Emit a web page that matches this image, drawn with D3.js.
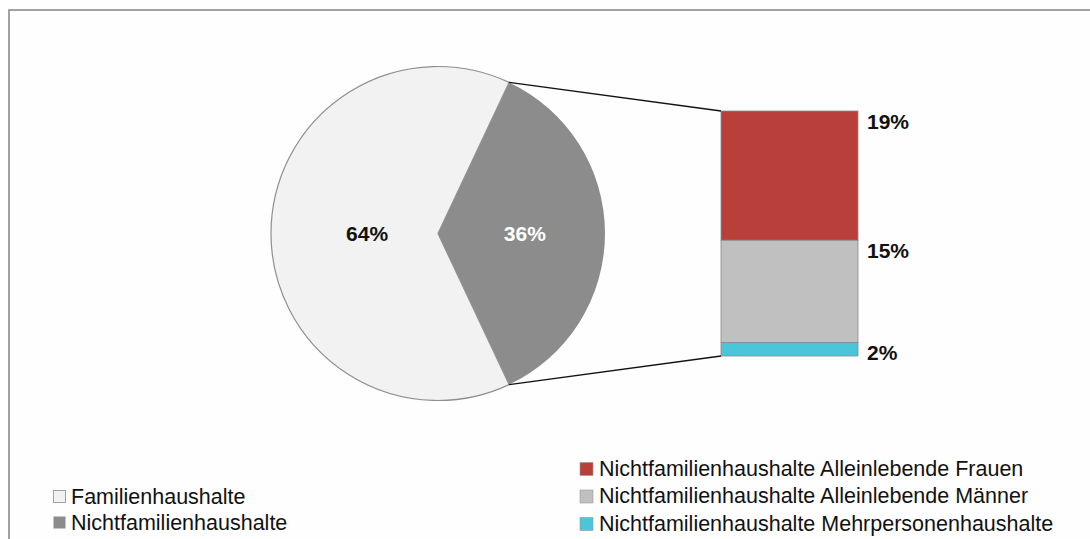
<!DOCTYPE html>
<html>
<head>
<meta charset="utf-8">
<script src="https://cdn.jsdelivr.net/npm/d3@7"></script>
<style>
  html, body { margin: 0; padding: 0; background: #ffffff; }
  svg { display: block; font-family: "Liberation Sans", Arial, sans-serif; }
</style>
</head>
<body>
<svg id="chart" width="1090" height="539"></svg>
<script>
// Household types: main pie and breakdown of non-family households
const pieCategories = ["Familienhaushalte", "Nichtfamilienhaushalte"];
const pieValues = [64, 36];
const pieColors = ["#f2f2f2", "#8c8c8c"];

const barCategories = [
  "Nichtfamilienhaushalte Alleinlebende Frauen",
  "Nichtfamilienhaushalte Alleinlebende Männer",
  "Nichtfamilienhaushalte Mehrpersonenhaushalte"
];
const barValues = [19, 15, 2];
const barColors = ["#b9403a", "#c0c0c0", "#4bc5d9"];

const svg = d3.select("#chart");

// outer frame
svg.append("rect")
  .attr("x", 9).attr("y", 10)
  .attr("width", 1200).attr("height", 700)
  .attr("fill", "#fefefe")
  .attr("stroke", "#8a8a8a").attr("stroke-width", 1.6);

// ---- pie ----
const cx = 438, cy = 233.5, r = 167;
const nfShare = pieValues[1] / d3.sum(pieValues);
const nfHalf = nfShare * Math.PI;
// rotate so the non-family slice is centred on the right-hand side
const startAngle = Math.PI / 2 - nfHalf;

const pie = d3.pie().sort(null)
  .startAngle(startAngle)
  .endAngle(startAngle + 2 * Math.PI);
const arcs = pie([pieValues[1], pieValues[0]]);
const arc = d3.arc().innerRadius(0).outerRadius(r);

const gPie = svg.append("g").attr("transform", `translate(${cx},${cy})`);
gPie.selectAll("path")
  .data(arcs)
  .join("path")
  .attr("d", arc)
  .attr("fill", (d, i) => i === 0 ? pieColors[1] : pieColors[0])
  .attr("stroke", (d, i) => i === 0 ? "none" : "#8f8f8f")
  .attr("stroke-width", 1.2);

// pie labels
const labelArc = d3.arc().innerRadius(r * 0.52).outerRadius(r * 0.52);
gPie.selectAll("text.pl")
  .data(arcs)
  .join("text")
  .attr("class", "pl")
  .attr("x", d => labelArc.centroid(d)[0] * (d.index === 0 ? 1.0 : 0.84) + (d.index === 0 ? 0 : 2))
  .attr("y", d => labelArc.centroid(d)[1] + 2)
  .attr("text-anchor", "middle")
  .attr("dominant-baseline", "middle")
  .attr("font-size", 21)
  .attr("font-weight", "bold")
  .attr("fill", (d, i) => i === 0 ? "#ffffff" : "#111111")
  .text(d => d.data + "%");

// ---- stacked bar ----
const barX = 721, barW = 137, barTop = 111, barBottom = 356;
const y = d3.scaleLinear()
  .domain([0, d3.sum(barValues)])
  .range([barTop, barBottom]);

const stacked = [];
let acc = 0;
barValues.forEach((v, i) => { stacked.push({ v, i, y0: acc, y1: acc + v }); acc += v; });

svg.selectAll("rect.seg")
  .data(stacked)
  .join("rect")
  .attr("class", "seg")
  .attr("x", barX)
  .attr("y", d => y(d.y0))
  .attr("width", barW)
  .attr("height", d => y(d.y1) - y(d.y0))
  .attr("fill", d => barColors[d.i])
  .attr("stroke", "#8a8a8a")
  .attr("stroke-width", 0.8);

svg.selectAll("text.bl")
  .data(stacked)
  .join("text")
  .attr("class", "bl")
  .attr("x", barX + barW + 9)
  .attr("y", d => y(d.y0) + 12)
  .attr("dominant-baseline", "middle")
  .attr("font-size", 21)
  .attr("font-weight", "bold")
  .attr("fill", "#111111")
  .text(d => d.v + "%");

// connector lines from slice edges to bar corners
const aTop = startAngle, aBot = startAngle + 2 * nfHalf;
const pTop = [cx + r * Math.sin(aTop), cy - r * Math.cos(aTop)];
const pBot = [cx + r * Math.sin(aBot), cy - r * Math.cos(aBot)];
svg.append("line")
  .attr("x1", pTop[0]).attr("y1", pTop[1])
  .attr("x2", barX).attr("y2", y(0))
  .attr("stroke", "#111").attr("stroke-width", 1.3);
svg.append("line")
  .attr("x1", pBot[0]).attr("y1", pBot[1])
  .attr("x2", barX).attr("y2", y(d3.sum(barValues)))
  .attr("stroke", "#111").attr("stroke-width", 1.3);

// ---- legends ----
const legFont = 21.5;
const legLeft = svg.append("g");
pieCategories.forEach((c, i) => {
  const ly = 497 + i * 26;
  legLeft.append("rect")
    .attr("x", 53.5).attr("y", ly - 6.5)
    .attr("width", 12).attr("height", 12)
    .attr("fill", pieColors[i])
    .attr("stroke", i === 0 ? "#8a8a8a" : "none")
    .attr("stroke-width", 0.8);
  legLeft.append("text")
    .attr("x", 71).attr("y", ly + 1)
    .attr("dominant-baseline", "middle")
    .attr("font-size", legFont)
    .attr("fill", "#111")
    .text(c);
});

const legRight = svg.append("g");
barCategories.forEach((c, i) => {
  const ly = 469 + i * 27.5;
  legRight.append("rect")
    .attr("x", 580).attr("y", ly - 6.5)
    .attr("width", 13).attr("height", 13)
    .attr("fill", barColors[i])
    .attr("stroke", "#9a9a9a")
    .attr("stroke-width", 0.6);
  legRight.append("text")
    .attr("x", 599).attr("y", ly + 1)
    .attr("dominant-baseline", "middle")
    .attr("font-size", legFont)
    .attr("fill", "#111")
    .text(c);
});
</script>
</body>
</html>
